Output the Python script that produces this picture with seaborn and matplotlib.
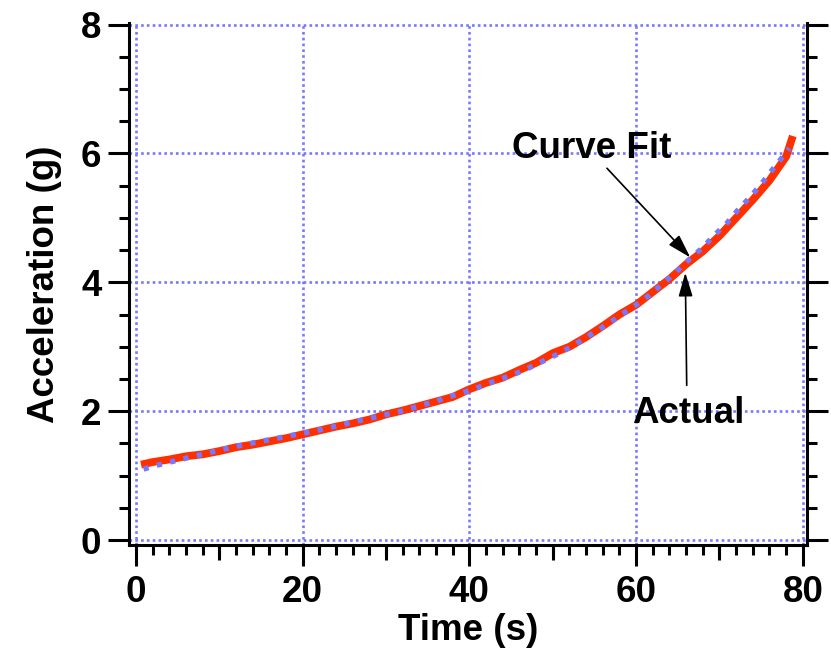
import matplotlib
matplotlib.use("Agg")
import matplotlib.pyplot as plt
import seaborn as sns
import numpy as np
from matplotlib.ticker import MultipleLocator

# ---- data ----
time_actual = [0.6, 2, 4, 6, 8, 10, 12, 14, 16, 18, 20, 22, 24, 26, 28, 30, 32, 34, 36, 38,
               40, 42, 44, 46, 48, 50, 52, 54, 56, 58, 60, 62, 64, 66, 68, 70, 72, 74, 76, 78, 78.8]
accel_actual = [1.17, 1.21, 1.25, 1.30, 1.33, 1.38, 1.44, 1.48, 1.53, 1.58, 1.64, 1.70, 1.76, 1.81,
                1.87, 1.95, 2.01, 2.08, 2.15, 2.22, 2.34, 2.44, 2.52, 2.64, 2.75, 2.90, 3.00, 3.15,
                3.32, 3.50, 3.65, 3.85, 4.05, 4.28, 4.48, 4.72, 5.00, 5.28, 5.58, 5.95, 6.27]

time_fit = [0.9, 2.5, 4.1, 5.7, 7.3, 8.9, 10.5, 12.1, 13.7, 15.3, 16.9, 18.5, 20.1, 21.7, 23.1,
            24.7, 26.3, 28.1, 29.7, 31.3, 32.9, 34.5, 36.1, 37.7, 39.3, 40.9, 42.5, 44.0, 45.7,
            47.3, 48.9, 50.5, 52.1, 53.6, 55.2, 56.8, 58.4, 60.0, 61.6, 63.2, 64.8, 66.4, 68.0,
            69.3, 70.9, 72.2, 73.8, 75.1, 76.3, 77.6, 78.4]
accel_fit = [1.10, 1.16, 1.21, 1.26, 1.31, 1.36, 1.41, 1.455, 1.50, 1.54, 1.58, 1.62, 1.66, 1.70,
             1.74, 1.79, 1.84, 1.89, 1.94, 1.98, 2.04, 2.10, 2.16, 2.23, 2.29, 2.36, 2.44, 2.51,
             2.59, 2.68, 2.78, 2.88, 2.99, 3.11, 3.24, 3.37, 3.51, 3.65, 3.80, 3.98, 4.16, 4.36,
             4.54, 4.72, 4.92, 5.12, 5.34, 5.54, 5.74, 5.95, 6.08]

x_ticks = [0, 20, 40, 60, 80]
y_ticks = [0, 2, 4, 6, 8]
x_label = "Time (s)"
y_label = "Acceleration (g)"
label_fit = "Curve Fit"
label_actual = "Actual"

# ---- style ----
sns.set_theme(style="white")
plt.rcParams['font.family'] = ['Liberation Sans', 'DejaVu Sans']
plt.rcParams['font.weight'] = 'bold'

FS = 26.5

fig = plt.figure(figsize=(8.31, 6.57), dpi=100)
ax = fig.add_axes([0.1552, 0.1705, 0.8159, 0.7941])

red = '#ff3000'
blue = '#7878ff'

sns.lineplot(x=time_actual, y=accel_actual, ax=ax, color=red, linewidth=5.6,
             solid_capstyle='butt', solid_joinstyle='round', zorder=3)
sns.lineplot(x=time_fit, y=accel_fit, ax=ax, color=blue, linewidth=3.8,
             linestyle=(0, (1, 1.6)), dash_capstyle='butt', zorder=4)

ax.set_xlim(-0.85, 80.5)
ax.set_ylim(-0.077, 8.02)
ax.set_xticks(x_ticks)
ax.set_yticks(y_ticks)
ax.xaxis.set_minor_locator(MultipleLocator(2))
ax.yaxis.set_minor_locator(MultipleLocator(0.5))

ax.grid(True, which='major', color=blue, linewidth=1.9, linestyle=(0, (1, 1.2)))
ax.set_axisbelow(True)

for side in ['left', 'bottom', 'right']:
    ax.spines[side].set_visible(True)
    ax.spines[side].set_color('black')
    ax.spines[side].set_linewidth(2.2)
ax.spines['top'].set_visible(False)

ax.tick_params(axis='both', which='major', direction='out', length=14.8, width=2.2,
               color='black', labelsize=FS, labelcolor='black')
ax.tick_params(axis='both', which='minor', direction='out', length=7.2, width=2.2, color='black')
ax.tick_params(axis='x', which='major', pad=7)
ax.tick_params(axis='y', which='major', pad=5)
ax.tick_params(axis='y', which='both', left=True, right=True, labelright=False)
ax.tick_params(axis='x', which='both', bottom=True, top=False)
for lbl in ax.get_xticklabels() + ax.get_yticklabels():
    lbl.set_fontweight('bold')

sec = ax.secondary_xaxis('bottom')
sec.set_xticks([10, 30, 50, 70])
sec.tick_params(axis='x', which='major', direction='out', length=10.8, width=2.2,
                color='black', labelbottom=False)
sec.tick_params(axis='x', which='minor', bottom=False)
sec.spines['bottom'].set_visible(False)

ax.set_xlabel(x_label, fontsize=FS, fontweight='bold', labelpad=2, color='black')
ax.set_ylabel(y_label, fontsize=FS, fontweight='bold', labelpad=14, color='black')

ax.text(54.7, 6.07, label_fit, fontsize=FS, fontweight='bold', ha='center', va='center', color='black')
ax.text(66.2, 1.97, label_actual, fontsize=FS, fontweight='bold', ha='center', va='center', color='black')

arrow_kw = dict(arrowstyle='-|>,head_length=1.45,head_width=0.43', color='black',
                lw=1.2, mutation_scale=10, shrinkA=0, shrinkB=0)
ax.annotate('', xy=(66.5, 4.385), xytext=(56.5, 5.77), arrowprops=arrow_kw, zorder=6)
ax.annotate('', xy=(65.9, 4.15), xytext=(66.07, 2.40), arrowprops=arrow_kw, zorder=6)

fig.savefig('out.png', dpi=100)
